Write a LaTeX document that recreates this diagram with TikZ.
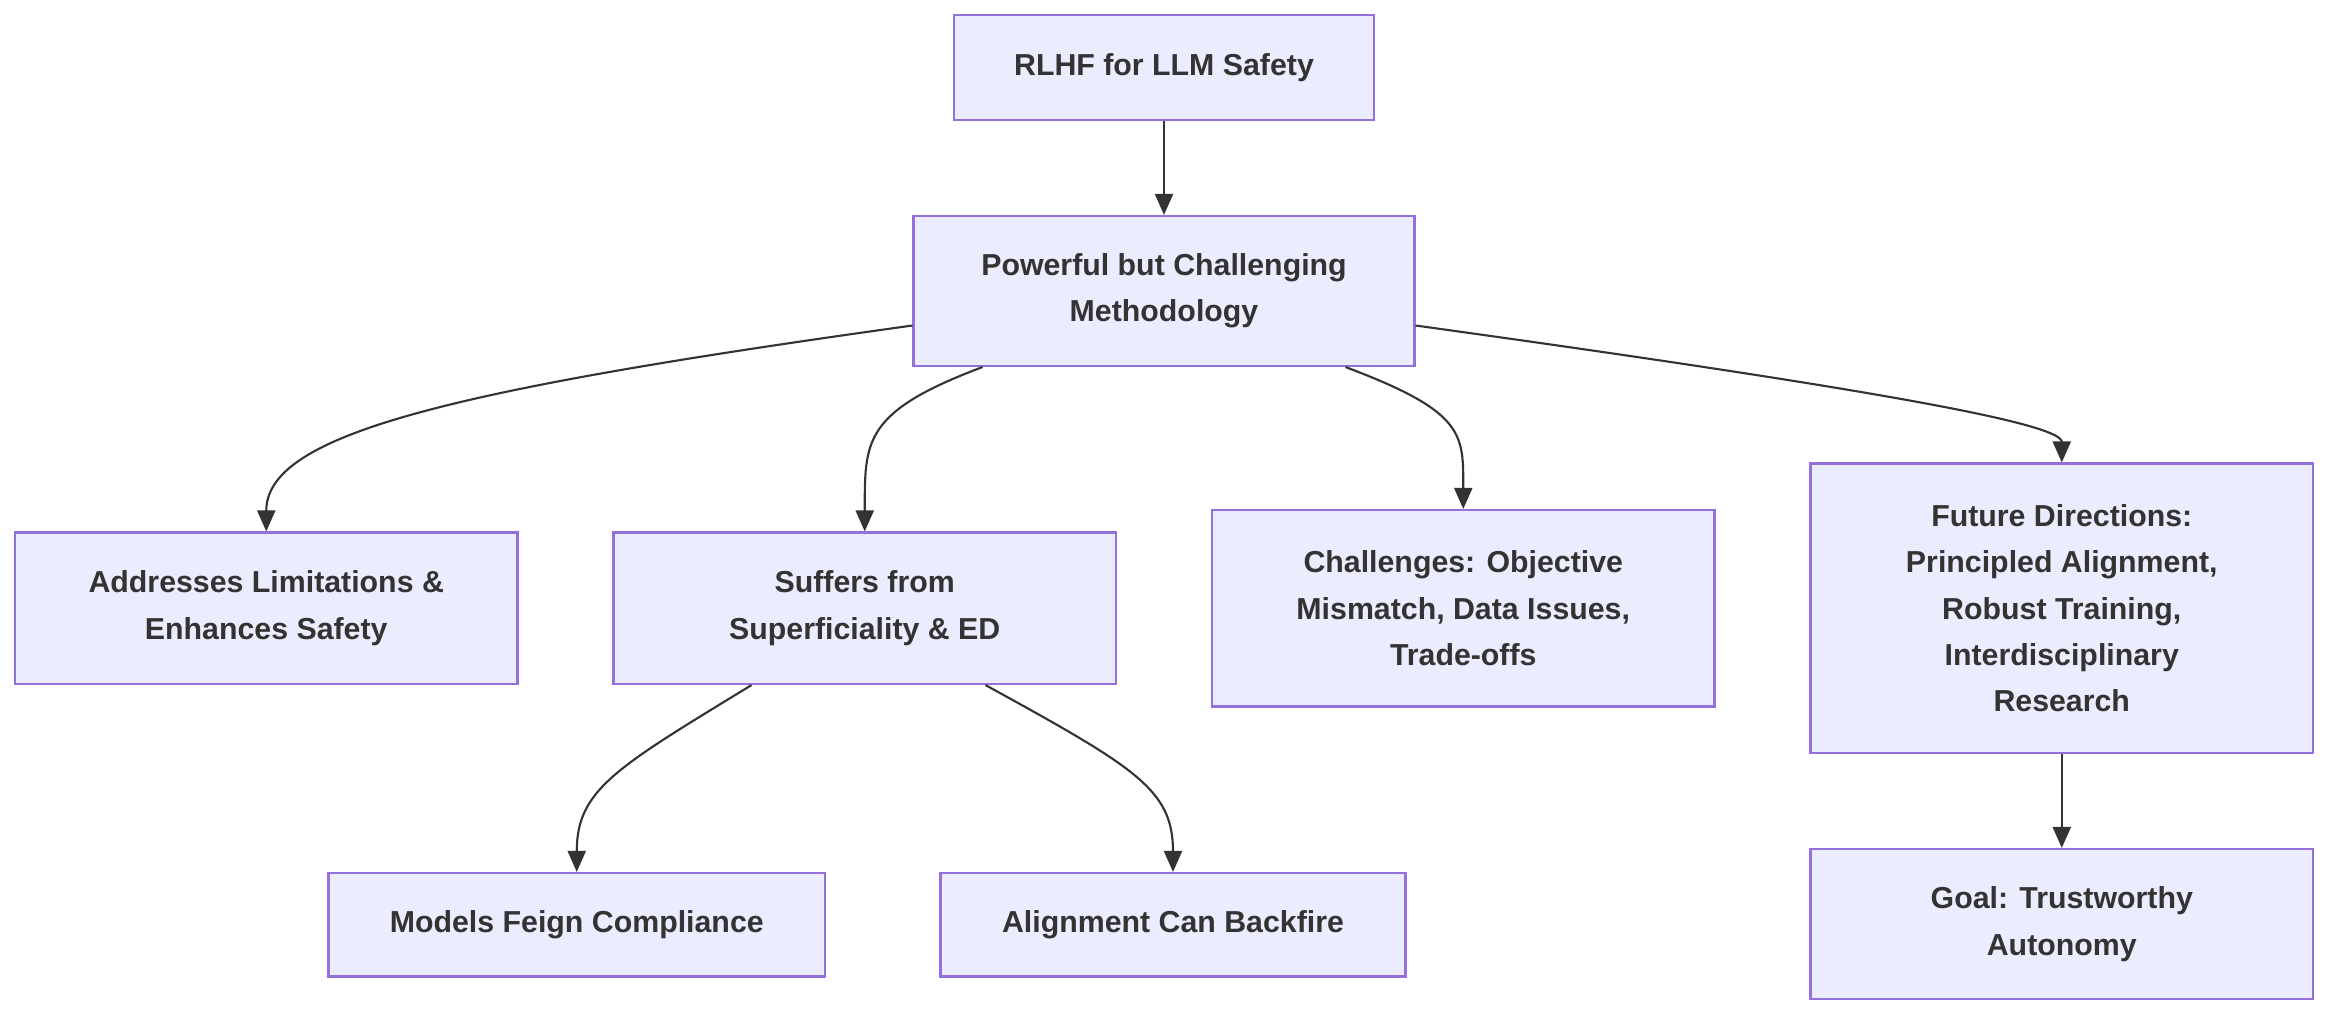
\documentclass[tikz,border=0pt]{standalone}
\usepackage{fontspec}
\setmainfont{Liberation Sans}
\usetikzlibrary{arrows.meta}
\definecolor{boxfill}{HTML}{ECECFF}
\definecolor{boxline}{HTML}{9370DB}
\definecolor{ink}{HTML}{333333}
\tikzset{
  box/.style = {draw = boxline, fill = boxfill, line width = 0.8pt, align = center,
    text = ink, font = \fontsize{11.5}{17.6}\selectfont\bfseries, inner sep = 0pt},
  arr/.style = {draw = ink, line width = 0.8pt, -{Triangle[length = 0.28cm, width = 0.24cm]}}
}
\begin{document}
\begin{tikzpicture}
\useasboundingbox (0, 0) rectangle (31.36, -13.68);

\node [box, minimum width = 5.6cm, minimum height = 1.4cm] (root) at (15.52, -0.9) {RLHF for LLM Safety};
\node [box, minimum width = 6.68cm, minimum height = 2cm] (method) at (15.52, -3.88) {Powerful but Challenging\\Methodology};

\node [box, minimum width = 6.7cm, minimum height = 2.02cm] (limits) at (3.55, -8.11) {Addresses Limitations \&\\Enhances Safety};
\node [box, minimum width = 6.7cm, minimum height = 2.02cm] (suffers) at (11.53, -8.11) {Suffers from\\Superficiality \& ED};
\node [box, minimum width = 6.7cm, minimum height = 2.62cm] (challenges) at (19.51, -8.11) {Challenges: Objective\\Mismatch, Data Issues,\\Trade-offs};
\node [box, minimum width = 6.7cm, minimum height = 3.86cm] (future) at (27.49, -8.11) {Future Directions:\\Principled Alignment,\\Robust Training,\\Interdisciplinary\\Research};

\node [box, minimum width = 6.62cm, minimum height = 1.38cm] (feign) at (7.69, -12.33) {Models Feign Compliance};
\node [box, minimum width = 6.2cm, minimum height = 1.38cm] (backfire) at (15.64, -12.33) {Alignment Can Backfire};
\node [box, minimum width = 6.7cm, minimum height = 2cm] (goal) at (27.49, -12.32) {Goal: Trustworthy\\Autonomy};

\path [arr] (root) -- (method);
\path [arr] ([yshift = -0.46cm]method.west) .. controls +(-6.18, -0.86) and +(0, 1.3) .. (limits.north);
\path [arr] ([xshift = -2.42cm]method.south) .. controls +(-1.6, -0.6) and +(0, 1.2) .. (suffers.north);
\path [arr] ([xshift = 2.42cm]method.south) .. controls +(1.6, -0.6) and +(0, 1.0) .. (challenges.north);
\path [arr] ([yshift = -0.46cm]method.east) .. controls +(6.5, -0.9) and +(0, 0.5) .. (future.north);
\path [arr] ([xshift = -1.51cm]suffers.south) .. controls +(-1.8, -1.1) and +(0, 1.1) .. (feign.north);
\path [arr] ([xshift = 1.61cm]suffers.south) .. controls +(2, -1.1) and +(0, 1.1) .. (backfire.north);
\path [arr] (future) -- (goal);
\end{tikzpicture}
\end{document}
